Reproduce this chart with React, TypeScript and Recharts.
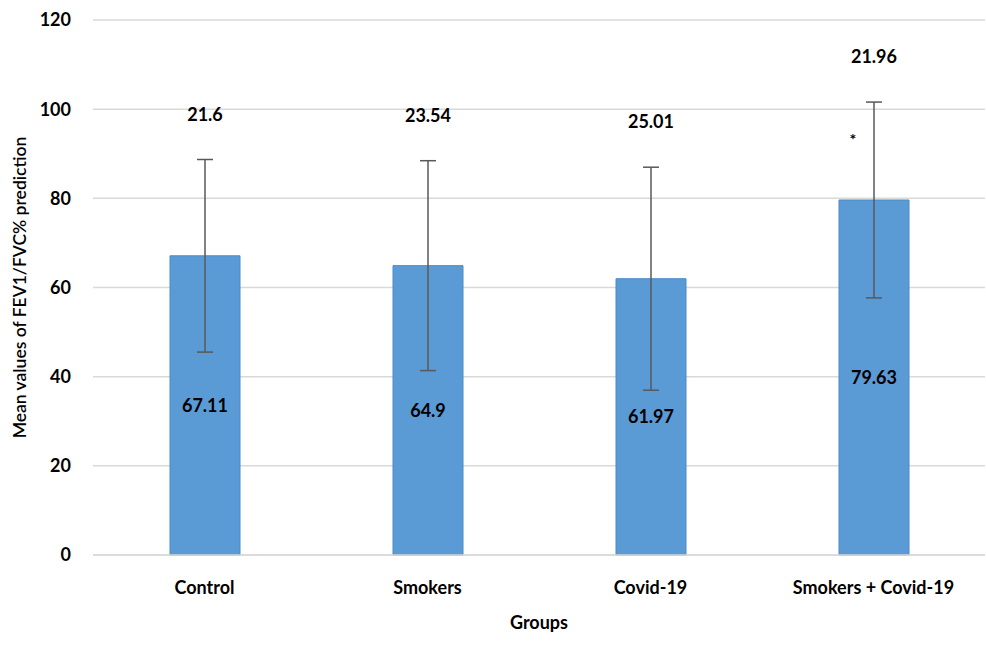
import { BarChart, Bar, XAxis, YAxis, CartesianGrid, ErrorBar, LabelList } from 'recharts';

const groups = ['Control', 'Smokers', 'Covid-19', 'Smokers + Covid-19'];
const means = [67.11, 64.9, 61.97, 79.63];
const sds = [21.6, 23.54, 25.01, 21.96];
const marks = ['', '', '', '*'];
const yTicks = [0, 20, 40, 60, 80, 100, 120];

const data = groups.map((group, i) => ({
  group,
  mean: means[i],
  sd: sds[i],
  mark: marks[i],
}));

const FONT = 'Lato, "Open Sans", sans-serif';
const textColor = '#000000';

// SD value above the error bar, plus the significance mark
const SdLabel = (props: any) => {
  const { x, y, width, height, index } = props;
  const row = data[index];
  if (!row) return null;
  const perUnit = height / row.mean;
  const top = y - row.sd * perUnit;
  const cx = x + width / 2;
  return (
    <g>
      <text
        x={cx}
        y={top - 46}
        textAnchor="middle"
        dominantBaseline="central"
        fontFamily={FONT}
        fontWeight={700}
        fontSize={18}
        fill={textColor}
      >
        {row.sd}
      </text>
      {row.mark && (
        <text
          x={cx - 21}
          y={top + 36}
          textAnchor="middle"
          dominantBaseline="central"
          fontFamily={FONT}
          fontWeight={700}
          fontSize={16}
          fill={textColor}
        >
          {row.mark}
        </text>
      )}
    </g>
  );
};

export default function App() {
  return (
    <div style={{ position: 'absolute', top: 0, left: 0, width: 986, height: 645, background: '#fff' }}>
      <BarChart
        width={986}
        height={645}
        data={data}
        margin={{ top: 20, right: 1, left: 0, bottom: 60 }}
      >
        <CartesianGrid vertical={false} stroke="#d9d9d9" strokeWidth={1.5} />
        <XAxis
          dataKey="group"
          axisLine={{ stroke: '#d9d9d9', strokeWidth: 1.5 }}
          tickLine={false}
          tick={{ fill: textColor, fontSize: 18, fontWeight: 700, fontFamily: FONT }}
          tickMargin={20}
          label={{
            value: 'Groups',
            position: 'insideBottom',
            offset: -44,
            style: { fill: textColor, fontSize: 18, fontWeight: 700, fontFamily: FONT },
          }}
        />
        <YAxis
          width={93}
          domain={[0, 120]}
          ticks={yTicks}
          axisLine={false}
          tickLine={false}
          tickMargin={16}
          tick={{ fill: textColor, fontSize: 18, fontWeight: 700, fontFamily: FONT }}
          label={{
            value: 'Mean values of FEV1/FVC% prediction',
            angle: -90,
            position: 'insideLeft',
            offset: 20,
            style: { textAnchor: 'middle', fill: textColor, fontSize: 17.5, fontWeight: 600, fontFamily: FONT },
          }}
        />
        <Bar
          dataKey="mean"
          fill="#5b9bd5"
          stroke="#4a8ac8"
          strokeWidth={1}
          barSize={70}
          isAnimationActive={false}
        >
          <ErrorBar dataKey="sd" width={8} stroke="#595959" strokeWidth={1.5} />
          <LabelList
            dataKey="mean"
            position="center"
            style={{ fill: textColor, fontSize: 18, fontWeight: 700, fontFamily: FONT }}
          />
          <LabelList dataKey="sd" content={<SdLabel />} />
        </Bar>
      </BarChart>
    </div>
  );
}
